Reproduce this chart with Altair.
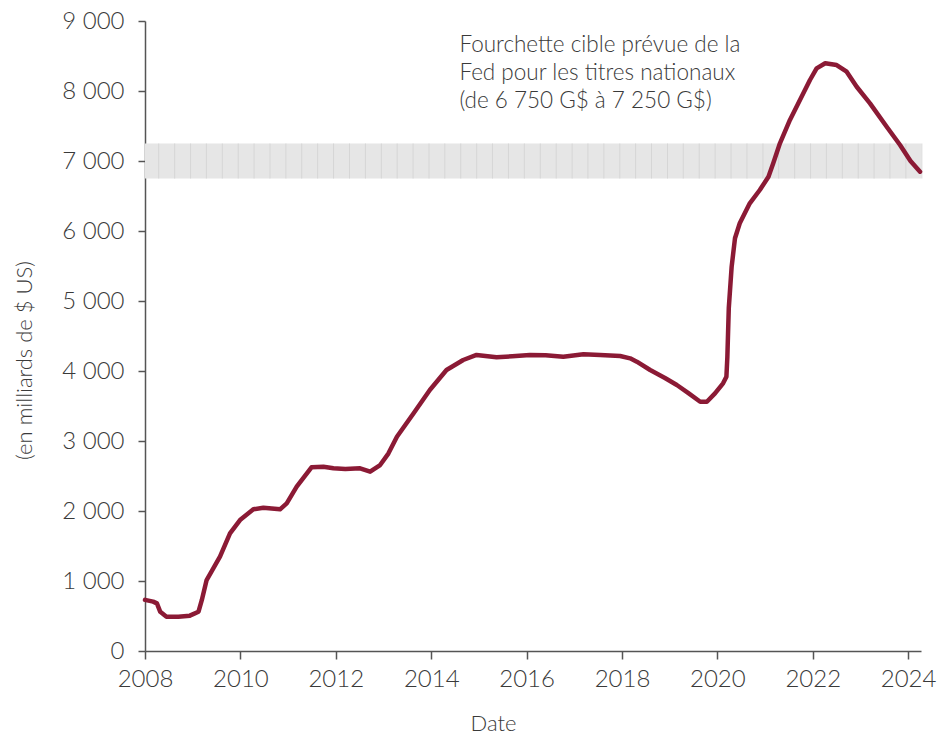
import altair as alt
import pandas as pd

# ---- data ----
years = [2008.0, 2008.17, 2008.25, 2008.32, 2008.45, 2008.7, 2008.94, 2009.12, 2009.19, 2009.29,
         2009.43, 2009.57, 2009.78, 2009.99, 2010.27, 2010.48, 2010.83, 2010.97, 2011.18, 2011.49,
         2011.74, 2011.95, 2012.2, 2012.51, 2012.72, 2012.93, 2013.1, 2013.28, 2013.63, 2013.97,
         2014.32, 2014.67, 2014.95, 2015.37, 2015.7, 2016.07, 2016.4, 2016.77, 2017.19, 2017.54,
         2017.96, 2018.17, 2018.31, 2018.59, 2018.9, 2019.15, 2019.4, 2019.64, 2019.78, 2019.95,
         2020.12, 2020.19, 2020.21, 2020.24, 2020.30, 2020.37, 2020.47, 2020.68, 2020.89, 2021.07,
         2021.17, 2021.31, 2021.52, 2021.73, 2021.94, 2022.08, 2022.26, 2022.50, 2022.71, 2022.92,
         2023.20, 2023.55, 2023.83, 2024.05, 2024.25]
values = [730, 705, 680, 560, 490, 490, 505, 561, 730, 1014,
          1180, 1347, 1681, 1871, 2024, 2047, 2024, 2110, 2347, 2624,
          2633, 2610, 2600, 2610, 2562, 2657, 2820, 3061, 3396, 3729,
          4014, 4157, 4229, 4196, 4210, 4229, 4225, 4205, 4239, 4229,
          4214, 4181, 4133, 4014, 3900, 3800, 3680, 3561, 3561, 3680,
          3824, 3919, 4200, 4900, 5490, 5896, 6110, 6396, 6586, 6776,
          6967, 7253, 7586, 7871, 8157, 8324, 8396, 8371, 8276, 8061,
          7824, 7490, 7229, 7000, 6847]

band_low = 6750
band_high = 7250
x_start_year = 2008.0
x_end_year = 2024.27
tick_years = list(range(2008, 2025, 2))
y_ticks = list(range(0, 9001, 1000))
note_lines = ["Fourchette cible prévue de la",
              "Fed pour les titres nationaux",
              "(de 6 750 G$ à 7 250 G$)"]
note_year = 2014.59
note_value = 8557

LINE_COLOR = "#8b1a35"
TEXT_COLOR = "#3a3a3a"
AXIS_COLOR = "#555555"
FONT = "Lato"
WEIGHT = 300


def to_date(y):
    yi = int(y)
    start = pd.Timestamp(year=yi, month=1, day=1)
    return start + pd.Timedelta(days=(y - yi) * 365.25)


x_start = to_date(x_start_year)
x_end = to_date(x_end_year)

line_df = pd.DataFrame({"date": [to_date(y) for y in years], "value": values})
band_df = pd.DataFrame({"date": [x_start], "date2": [x_end],
                        "value": [band_low], "value2": [band_high]})
stripe_dates = pd.date_range("2008-03-15", x_end, freq="4MS") + pd.Timedelta(days=14)
stripe_df = pd.DataFrame({"date": stripe_dates,
                          "value": band_low, "value2": band_high})
note_df = pd.DataFrame({"date": [to_date(note_year)], "value": [note_value],
                        "label": ["\n".join(note_lines)]})

x_scale = alt.Scale(domain=[x_start.isoformat(), x_end.isoformat()], nice=False)
y_scale = alt.Scale(domain=[0, 9000], nice=False)

x_axis = alt.Axis(
    values=[alt.DateTime(year=y, month=1, date=1) for y in tick_years],
    format="%Y", grid=False, title="Date",
    domainColor=AXIS_COLOR, domainWidth=1.5, tickColor=AXIS_COLOR, tickWidth=1.5,
    tickSize=8, labelPadding=8, labelFontSize=24, labelColor=TEXT_COLOR,
    labelFont=FONT, labelFontWeight=WEIGHT, labelFlush=False, labelOverlap=False,
    titleFont=FONT, titleFontSize=22, titleFontWeight=WEIGHT, titleColor=TEXT_COLOR,
    titleX=348, titleY=72, titleAlign="center", titleBaseline="middle",
)
y_axis = alt.Axis(
    values=y_ticks, grid=False, title="(en milliards de $ US)",
    labelExpr="replace(format(datum.value, ','), ',', ' ')",
    domainColor=AXIS_COLOR, domainWidth=1.5, tickColor=AXIS_COLOR, tickWidth=1.5,
    tickSize=7, labelPadding=14, labelFontSize=24, labelColor=TEXT_COLOR,
    labelFont=FONT, labelFontWeight=WEIGHT, labelFlush=False, labelOverlap=False,
    titleFont=FONT, titleFontSize=22, titleFontWeight=WEIGHT, titleColor=TEXT_COLOR,
    titleX=-121, titleY=339, titleAngle=270, titleAlign="center", titleBaseline="middle",
)

X = alt.X("date:T", scale=x_scale, axis=x_axis)
Y = alt.Y("value:Q", scale=y_scale, axis=y_axis)

band = alt.Chart(band_df).mark_rect(color="#e6e6e6").encode(
    x=X, x2="date2:T", y=Y, y2="value2:Q")

stripes = alt.Chart(stripe_df).mark_rule(color="#d6d6d6", strokeWidth=1).encode(
    x=X, y=Y, y2="value2:Q")

line = alt.Chart(line_df).mark_line(color=LINE_COLOR, strokeWidth=4.5,
                                    strokeJoin="round", strokeCap="round").encode(
    x=X, y=Y)

note = alt.Chart(note_df).mark_text(
    align="left", baseline="alphabetic", font=FONT, fontSize=22.5, fontWeight=WEIGHT,
    color=TEXT_COLOR, lineBreak="\n", lineHeight=28).encode(
    x=X, y=Y, text="label:N")

chart = alt.layer(band, stripes, line, note).properties(
    width=776, height=630,
    autosize=alt.AutoSizeParams(type="none"),
    padding={"left": 145, "top": 21, "right": 18, "bottom": 84},
    background="white",
).configure_view(stroke=None)

chart.save("out.html", embed_options={"renderer": "svg", "actions": False})
